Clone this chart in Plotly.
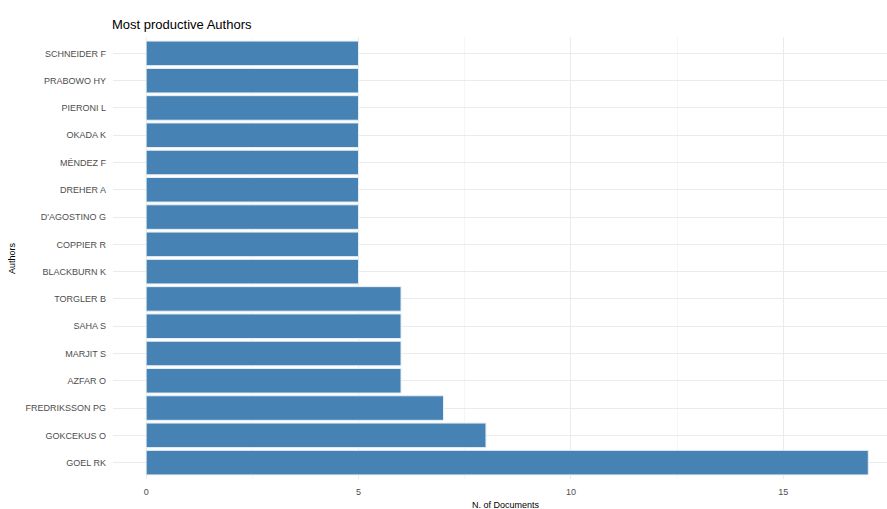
import plotly.graph_objects as go

authors = ["GOEL RK", "GOKCEKUS O", "FREDRIKSSON PG", "AZFAR O", "MARJIT S", "SAHA S",
           "TORGLER B", "BLACKBURN K", "COPPIER R", "D'AGOSTINO G", "DREHER A",
           "MÉNDEZ F", "OKADA K", "PIERONI L", "PRABOWO HY", "SCHNEIDER F"]
documents = [17, 8, 7, 6, 6, 6, 6, 5, 5, 5, 5, 5, 5, 5, 5, 5]
x_ticks = [0, 5, 10, 15]

FONT = "Liberation Sans, Arial, sans-serif"

fig = go.Figure(go.Bar(
    x=documents, y=authors, orientation="h", width=0.9,
    marker=dict(color="#4682B4", line=dict(color="#E8EEF5", width=1)),
))

fig.update_layout(
    width=887, height=509,
    margin=dict(l=113, r=0, t=37, b=30),
    plot_bgcolor="white", paper_bgcolor="white",
    showlegend=False,
    font=dict(family=FONT, color="#4D4D4D", size=9),
    xaxis=dict(range=[-0.78, 17.44], tickvals=x_ticks, ticktext=[str(v) for v in x_ticks],
               showgrid=True, gridcolor="#EBEBEB", gridwidth=1, zeroline=False,
               ticks="", ticklabelstandoff=6, showline=False,
               minor=dict(tickvals=[2.5, 7.5, 12.5, 17.5], showgrid=True, gridcolor="#F5F5F5", gridwidth=1),
               tickfont=dict(size=9, color="#4D4D4D", family=FONT)),
    yaxis=dict(categoryorder="array", categoryarray=authors, range=[-0.6, 15.6],
               showgrid=True, gridcolor="#EBEBEB", gridwidth=1, zeroline=False,
               ticks="", ticklabelstandoff=6, showline=False,
               tickfont=dict(size=9, color="#4D4D4D", family=FONT)),
)

fig.add_annotation(text="Most productive Authors", xref="paper", yref="paper",
                   x=-0.004, y=1.0, xanchor="left", yanchor="bottom", yshift=3,
                   showarrow=False, font=dict(size=13, color="black", family=FONT))
fig.add_annotation(text="N. of Documents", xref="paper", yref="paper",
                   x=(506 - 113) / 774, y=0, xanchor="center", yanchor="top", yshift=-19,
                   showarrow=False, font=dict(size=9, color="black", family=FONT))
fig.add_annotation(text="Authors", xref="paper", yref="paper",
                   x=0, y=0.5, xanchor="center", yanchor="middle", xshift=-101,
                   textangle=-90, showarrow=False, font=dict(size=9, color="black", family=FONT))

fig.write_html("out.html", config={"displayModeBar": False},
               post_script="document.body.style.margin='0';document.body.style.overflow='hidden';")
